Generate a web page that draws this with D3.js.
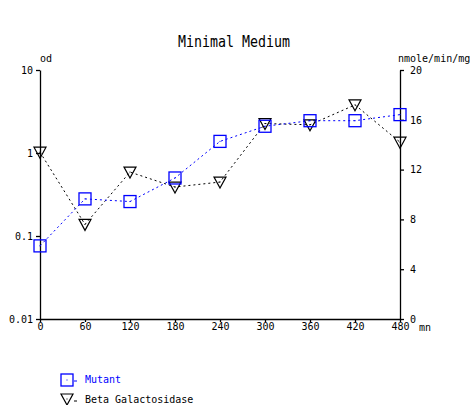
<!DOCTYPE html>
<html><head><meta charset="utf-8">
<script src="https://cdn.jsdelivr.net/npm/d3@7"></script>
<style>body{margin:0;background:#fff}</style>
</head><body>
<svg id="c" width="472" height="405"></svg>
<script>
const times = [0, 60, 120, 180, 240, 300, 360, 420, 480];
const mutantOD = [0.076, 0.28, 0.26, 0.50, 1.38, 2.1, 2.45, 2.45, 2.9];
const betaGal = [13.4, 7.6, 11.8, 10.6, 11.0, 15.7, 15.6, 17.2, 14.2];
const xTicks = [0, 60, 120, 180, 240, 300, 360, 420, 480];
const leftTicks = [0.01, 0.1, 1, 10];
const leftTickLabels = ["0.01", "0.1", "1", "10"];
const rightTicks = [0, 4, 8, 12, 16, 20];
const seriesNames = ["Mutant", "Beta Galactosidase"];

const svg = d3.select("#c");
const L = 40, R = 400, T = 70, B = 319;
const x = d3.scaleLinear().domain([0, 480]).range([L, R]);
const yL = d3.scaleLog().domain([0.01, 10]).range([B, T]);
const yR = d3.scaleLinear().domain([0, 20]).range([B, T]);
const mono = "DejaVu Sans Mono, monospace";
const fs = 10;

svg.append("text").attr("x", 178).attr("y", 47).attr("font-family", mono)
  .attr("font-size", 16).attr("textLength", 112).attr("lengthAdjust", "spacingAndGlyphs")
  .text("Minimal Medium");

function styleAxis(g) {
  g.selectAll("path,line").attr("stroke", "#000").attr("stroke-width", 1.3);
  g.selectAll("text").attr("font-family", mono).attr("font-size", fs).attr("fill", "#000");
}
svg.append("g").attr("transform", `translate(0,${B})`)
  .call(d3.axisBottom(x).tickValues(xTicks).tickSize(3).tickSizeOuter(0).tickPadding(1))
  .call(styleAxis);
svg.append("g").attr("transform", `translate(${L},0)`)
  .call(d3.axisLeft(yL).tickValues(leftTicks).tickFormat((d, i) => leftTickLabels[i]).tickSize(4).tickSizeOuter(0).tickPadding(3))
  .call(styleAxis);
svg.append("g").attr("transform", `translate(${R},0)`)
  .call(d3.axisRight(yR).tickValues(rightTicks).tickSize(4).tickSizeOuter(0).tickPadding(6))
  .call(styleAxis);

svg.append("text").attr("x", 40).attr("y", 62).attr("font-family", mono).attr("font-size", fs).text("od");
svg.append("text").attr("x", 398).attr("y", 62).attr("font-family", mono).attr("font-size", fs).text("nmole/min/mg");
svg.append("text").attr("x", 419).attr("y", 331).attr("font-family", mono).attr("font-size", fs).text("mn");

const lineM = d3.line().x((d, i) => x(times[i])).y(d => yL(d));
const lineB = d3.line().x((d, i) => x(times[i])).y(d => yR(d));

svg.append("path").datum(betaGal).attr("d", lineB).attr("fill", "none")
  .attr("stroke", "#000").attr("stroke-width", 1).attr("stroke-dasharray", "2,3");
svg.append("path").datum(mutantOD).attr("d", lineM).attr("fill", "none")
  .attr("stroke", "#0000ff").attr("stroke-width", 1).attr("stroke-dasharray", "2,3");

function tri(g, cx, cy) {
  g.append("path").attr("d", `M${cx-6},${cy-5}L${cx+6},${cy-5}L${cx},${cy+6}Z`)
    .attr("fill", "none").attr("stroke", "#000").attr("stroke-width", 1.2);
  g.append("rect").attr("x", cx - 0.5).attr("y", cy - 0.5).attr("width", 1).attr("height", 1).attr("fill", "#000");
}
function sq(g, cx, cy) {
  g.append("rect").attr("x", cx - 6).attr("y", cy - 6).attr("width", 12).attr("height", 12)
    .attr("fill", "none").attr("stroke", "#0000ff").attr("stroke-width", 1.3);
  g.append("rect").attr("x", cx - 0.5).attr("y", cy - 0.5).attr("width", 1).attr("height", 1).attr("fill", "#0000ff");
}
const gB = svg.append("g");
betaGal.forEach((d, i) => tri(gB, x(times[i]), yR(d)));
const gM = svg.append("g");
mutantOD.forEach((d, i) => sq(gM, x(times[i]), yL(d)));

// legend
const lg = svg.append("g");
sq(lg, 67, 380);
lg.append("line").attr("x1", 74).attr("x2", 77).attr("y1", 381).attr("y2", 381).attr("stroke", "#0000ff");
lg.append("text").attr("x", 85).attr("y", 383).attr("font-family", mono).attr("font-size", fs).attr("fill", "#0000ff").text(seriesNames[0]);
tri(lg, 67, 399);
lg.append("line").attr("x1", 74).attr("x2", 77).attr("y1", 401).attr("y2", 401).attr("stroke", "#000");
lg.append("text").attr("x", 85).attr("y", 403).attr("font-family", mono).attr("font-size", fs).attr("fill", "#000").text(seriesNames[1]);
</script>
</body></html>
